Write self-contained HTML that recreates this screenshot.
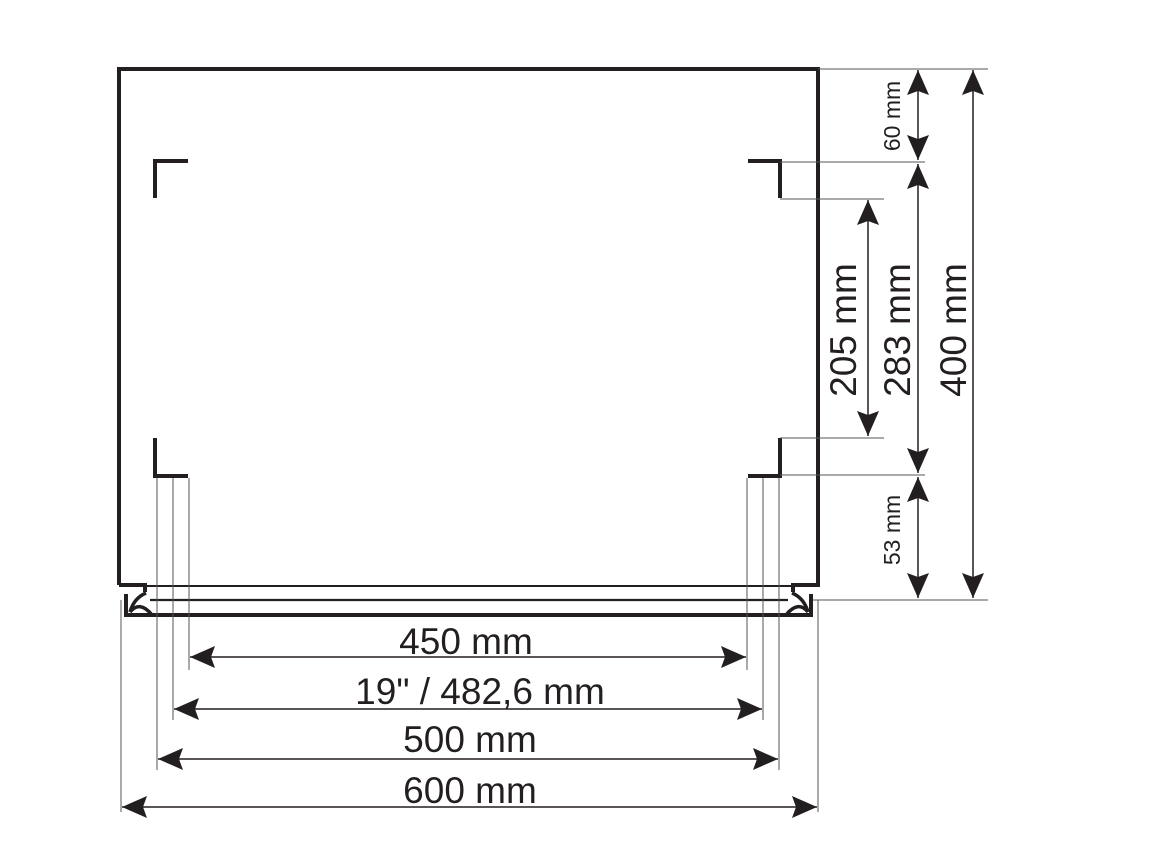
<!DOCTYPE html>
<html><head><meta charset="utf-8"><style>
html,body{margin:0;padding:0;background:#fff}
svg{display:block}
text{font-family:"Liberation Sans",sans-serif;fill:#231f20}
</style></head><body>
<svg width="1152" height="864" viewBox="0 0 1152 864" xmlns="http://www.w3.org/2000/svg">
<g stroke="#231f20" fill="none">
<path d="M119,585 L119,69 L818,69 L818,585 L793,585 L793,592" stroke-width="4"/>
<path d="M119,585 L145,585 L145,592" stroke-width="4"/>
<line x1="145" y1="586" x2="793" y2="586" stroke-width="2"/>
<line x1="150" y1="600" x2="788" y2="600" stroke-width="2.2"/>
<path d="M126,594 L126,615 L811,615 L811,594" stroke-width="4"/>
<path d="M130,612 Q134,598 146,593 M130,612 Q140,600 152,615 M808,612 Q804,598 792,593 M808,612 Q798,600 786,615" stroke-width="3.5"/>
<path d="M155,198 L155,161 L188,161" stroke-width="4"/>
<path d="M155,438 L155,476 L188,476" stroke-width="4"/>
<path d="M748,161 L780,161 L780,198" stroke-width="4"/>
<path d="M780,438 L780,476 L748,476" stroke-width="4"/>
<g stroke-width="1" stroke="#555">
<line x1="818" y1="69" x2="988" y2="69"/>
<line x1="780" y1="162" x2="925" y2="162"/>
<line x1="780" y1="199" x2="884" y2="199"/>
<line x1="780" y1="438" x2="884" y2="438"/>
<line x1="780" y1="475" x2="925" y2="475"/>
<line x1="813" y1="600" x2="988" y2="600"/>
<line x1="121" y1="600" x2="121" y2="812"/>
<line x1="818" y1="600" x2="818" y2="812"/>
<line x1="157" y1="478" x2="157" y2="770"/>
<line x1="173" y1="478" x2="173" y2="720"/>
<line x1="189" y1="478" x2="189" y2="670"/>
<line x1="747" y1="478" x2="747" y2="670"/>
<line x1="763" y1="478" x2="763" y2="720"/>
<line x1="779" y1="478" x2="779" y2="770"/>
</g>
<g stroke-width="1.5">
<line x1="918" y1="70" x2="918" y2="160"/>
<line x1="918" y1="164" x2="918" y2="473"/>
<line x1="918" y1="477" x2="918" y2="598"/>
<line x1="868" y1="200" x2="868" y2="436"/>
<line x1="973" y1="70" x2="973" y2="598"/>
<line x1="190" y1="657" x2="746" y2="657"/>
<line x1="174" y1="709" x2="762" y2="709"/>
<line x1="158" y1="759" x2="778" y2="759"/>
<line x1="122" y1="807" x2="817" y2="807"/>
</g>
</g>
<g fill="#231f20">
<!-- vertical arrows: up tip at y: (x,y)(x-11,y+25)(x,y+20)(x+11,y+25) -->
<path d="M918,70 l-11,25 l11,-4 l11,4z M918,160 l-11,-25 l11,4 l11,-4z"/>
<path d="M918,164 l-11,25 l11,-4 l11,4z M918,473 l-11,-25 l11,4 l11,-4z"/>
<path d="M918,477 l-11,25 l11,-4 l11,4z M918,598 l-11,-25 l11,4 l11,-4z"/>
<path d="M868,200 l-11,25 l11,-4 l11,4z M868,436 l-11,-25 l11,4 l11,-4z"/>
<path d="M973,70 l-11,25 l11,-4 l11,4z M973,598 l-11,-25 l11,4 l11,-4z"/>
<path d="M190,657 l25,-11 l-4,11 l4,11z M746,657 l-25,-11 l4,11 l-4,11z"/>
<path d="M174,709 l25,-11 l-4,11 l4,11z M762,709 l-25,-11 l4,11 l-4,11z"/>
<path d="M158,759 l25,-11 l-4,11 l4,11z M778,759 l-25,-11 l4,11 l-4,11z"/>
<path d="M122,807 l25,-11 l-4,11 l4,11z M817,807 l-25,-11 l4,11 l-4,11z"/>
</g>
<text x="466" y="654" font-size="37" text-anchor="middle">450 mm</text>
<text x="480" y="704" font-size="37" text-anchor="middle">19" / 482,6 mm</text>
<text x="470" y="752" font-size="37" text-anchor="middle">500 mm</text>
<text x="470" y="803" font-size="37" text-anchor="middle">600 mm</text>
<text transform="translate(856,330) rotate(-90)" font-size="37" text-anchor="middle">205 mm</text>
<text transform="translate(910,330) rotate(-90)" font-size="37" text-anchor="middle">283 mm</text>
<text transform="translate(966,330) rotate(-90)" font-size="37" text-anchor="middle">400 mm</text>
<text transform="translate(900,116) rotate(-90)" font-size="23" text-anchor="middle">60 mm</text>
<text transform="translate(900,530) rotate(-90)" font-size="23" text-anchor="middle">53 mm</text>
</svg>
</body></html>
